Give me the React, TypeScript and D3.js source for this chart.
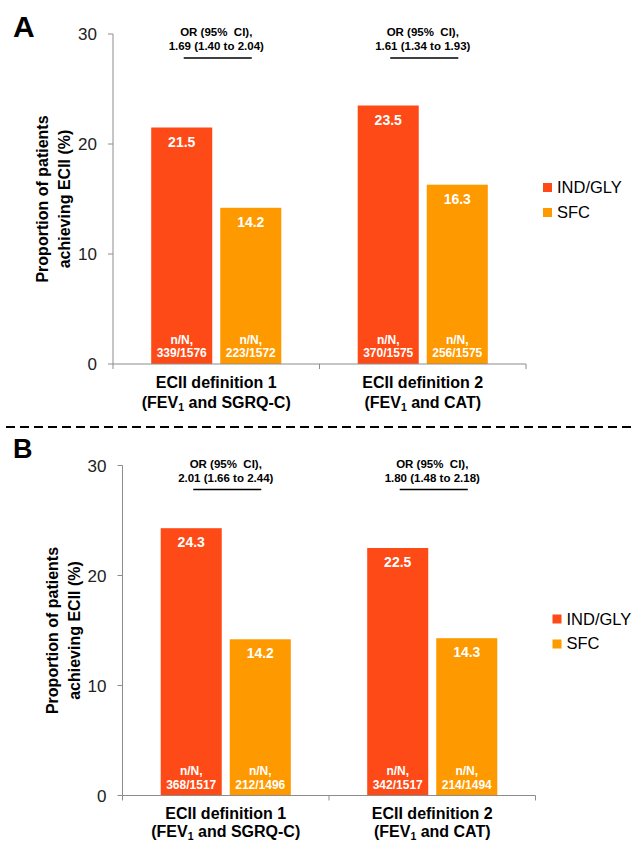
import React from "react";
import * as d3 from "d3";

const categories = ["ECII definition 1", "ECII definition 2"];
const catDetailPre = ["(FEV", "(FEV"];
const catDetailSub = ["1", "1"];
const catDetailPost = [" and SGRQ-C)", " and CAT)"];
const series = ["IND/GLY", "SFC"];
const seriesColors = ["#fe4a17", "#fe9900"];
const yTicks = [0, 10, 20, 30];

const panelA_IND = [21.5, 23.5];
const panelA_SFC = [14.2, 16.3];
const panelA_nN_IND = ["339/1576", "370/1575"];
const panelA_nN_SFC = ["223/1572", "256/1575"];
const panelA_OR = ["1.69 (1.40 to 2.04)", "1.61 (1.34 to 1.93)"];

const panelB_IND = [24.3, 22.5];
const panelB_SFC = [14.2, 14.3];
const panelB_nN_IND = ["368/1517", "342/1517"];
const panelB_nN_SFC = ["212/1496", "214/1494"];
const panelB_OR = ["2.01 (1.66 to 2.44)", "1.80 (1.48 to 2.18)"];

const FONT = "'Liberation Sans', Arial, Helvetica, sans-serif";
const AXIS = "#8c8c8c";

type PanelProps = {
  axisX: number;
  top: number;
  letter: string;
  letterY: number;
  letterSize: number;
  ind: number[];
  sfc: number[];
  nnInd: string[];
  nnSfc: string[];
  or: string[];
  catGap1: number;
  catGap2: number;
};

function Panel({ axisX, top, letter, letterY, letterSize, ind, sfc, nnInd, nnSfc, or, catGap1, catGap2 }: PanelProps) {
  const height = 330;
  const width = 413;
  const bottom = top + height;
  const y = d3.scaleLinear().domain([0, 30]).range([bottom, top]);
  const x = d3
    .scaleBand<string>()
    .domain(categories)
    .range([axisX, axisX + width])
    .paddingInner(0.37)
    .paddingOuter(0.185);
  const inner = d3
    .scaleBand<string>()
    .domain(series)
    .range([0, x.bandwidth()])
    .paddingInner(0.116);
  const values = [ind, sfc];
  const nns = [nnInd, nnSfc];
  const bw = inner.bandwidth();
  const xTickPos = [axisX, axisX + width / 2, axisX + width];

  return (
    <g fontFamily={FONT}>
      <text x={13} y={letterY} fontSize={letterSize} fontWeight="bold" fill="#000">
        {letter}
      </text>
      {/* y label */}
      <text
        transform={`translate(${axisX - 65},${(top + bottom) / 2}) rotate(-90)`}
        textAnchor="middle"
        fontSize={16}
        fontWeight="bold"
        fill="#000"
      >
        Proportion of patients
      </text>
      <text
        transform={`translate(${axisX - 43},${(top + bottom) / 2}) rotate(-90)`}
        textAnchor="middle"
        fontSize={16}
        fontWeight="bold"
        fill="#000"
      >
        achieving ECII (%)
      </text>
      {/* bars */}
      {categories.map((c, ci) =>
        series.map((s, si) => {
          const v = values[si][ci];
          const bx = (x(c) as number) + (inner(s) as number);
          return (
            <g key={c + s}>
              <rect x={bx} y={y(v)} width={bw} height={bottom - y(v)} fill={seriesColors[si]} />
              <text
                x={bx + bw / 2}
                y={y(v) + 19}
                textAnchor="middle"
                fontSize={14}
                fontWeight="bold"
                fill="#fff"
              >
                {v.toFixed(1)}
              </text>
              <text x={bx + bw / 2} y={bottom - 20.5} textAnchor="middle" fontSize={12} fontWeight="bold" fill="#fff">
                n/N,
              </text>
              <text x={bx + bw / 2} y={bottom - 7} textAnchor="middle" fontSize={12} fontWeight="bold" fill="#fff">
                {nns[si][ci]}
              </text>
            </g>
          );
        })
      )}
      {/* OR annotations */}
      {categories.map((c, ci) => {
        const cx = (x(c) as number) + x.bandwidth() / 2;
        const x1 = (x(c) as number) + (inner(series[0]) as number) + bw / 2 + 2;
        const x2 = (x(c) as number) + (inner(series[1]) as number) + bw / 2 + 1;
        return (
          <g key={"or" + c}>
            <text x={cx} y={top + 2} textAnchor="middle" fontSize={11.5} fontWeight="bold" fill="#000">
              {"OR (95%\u00a0 CI),"}
            </text>
            <text x={cx} y={top + 16} textAnchor="middle" fontSize={11.5} fontWeight="bold" fill="#000">
              {or[ci]}
            </text>
            <line x1={x1} x2={x2} y1={top + 24} y2={top + 24} stroke="#000" strokeWidth={1.5} />
          </g>
        );
      })}
      {/* y axis */}
      <line x1={axisX} x2={axisX} y1={top} y2={bottom} stroke={AXIS} strokeWidth={1} />
      {yTicks.map((t) => (
        <g key={"yt" + t}>
          <line x1={axisX - 5} x2={axisX} y1={y(t)} y2={y(t)} stroke={AXIS} strokeWidth={1} />
          <text x={axisX - 16} y={y(t) + 6} textAnchor="end" fontSize={17} fill="#222">
            {t}
          </text>
        </g>
      ))}
      {/* x axis */}
      <line x1={axisX} x2={axisX + width} y1={bottom} y2={bottom} stroke={AXIS} strokeWidth={1} />
      {xTickPos.map((p, i) => (
        <line key={"xt" + i} x1={p} x2={p} y1={bottom} y2={bottom + 5} stroke={AXIS} strokeWidth={1} />
      ))}
      {categories.map((c, ci) => {
        const cx = (x(c) as number) + x.bandwidth() / 2;
        return (
          <g key={"cl" + c}>
            <text x={cx} y={bottom + catGap1} textAnchor="middle" fontSize={16} fontWeight="bold" fill="#000">
              {c}
            </text>
            <text x={cx} y={bottom + catGap2} textAnchor="middle" fontSize={16} fontWeight="bold" fill="#000">
              {catDetailPre[ci]}
              <tspan fontSize={10.5} dy={3}>
                {catDetailSub[ci]}
              </tspan>
              <tspan dy={-3}>{catDetailPost[ci]}</tspan>
            </text>
          </g>
        );
      })}
      {/* legend */}
      {series.map((s, si) => (
        <g key={"lg" + s}>
          <rect x={axisX + 430} y={top + 149 + si * 25} width={9} height={9} fill={seriesColors[si]} />
          <text x={axisX + 444} y={top + 159 + si * 24.5} fontSize={16.5} fill="#000">
            {s}
          </text>
        </g>
      ))}
    </g>
  );
}

export default function App() {
  return (
    <svg
      width={633}
      height={842}
      style={{ position: "absolute", left: 0, top: 0, background: "#fff" }}
    >
      <rect x={0} y={0} width={633} height={842} fill="#fff" />
      <Panel
        axisX={113}
        top={34}
        letter="A"
        letterY={36.5}
        letterSize={30}
        ind={panelA_IND}
        sfc={panelA_SFC}
        nnInd={panelA_nN_IND}
        nnSfc={panelA_nN_SFC}
        or={panelA_OR}
        catGap1={24}
        catGap2={43.5}
      />
      <line x1={6} x2={633} y1={427} y2={427} stroke="#000" strokeWidth={2} strokeDasharray="9 5" />
      <Panel
        axisX={122.5}
        top={465.5}
        letter="B"
        letterY={458}
        letterSize={27}
        ind={panelB_IND}
        sfc={panelB_SFC}
        nnInd={panelB_nN_IND}
        nnSfc={panelB_nN_SFC}
        or={panelB_OR}
        catGap1={23}
        catGap2={41.5}
      />
    </svg>
  );
}
